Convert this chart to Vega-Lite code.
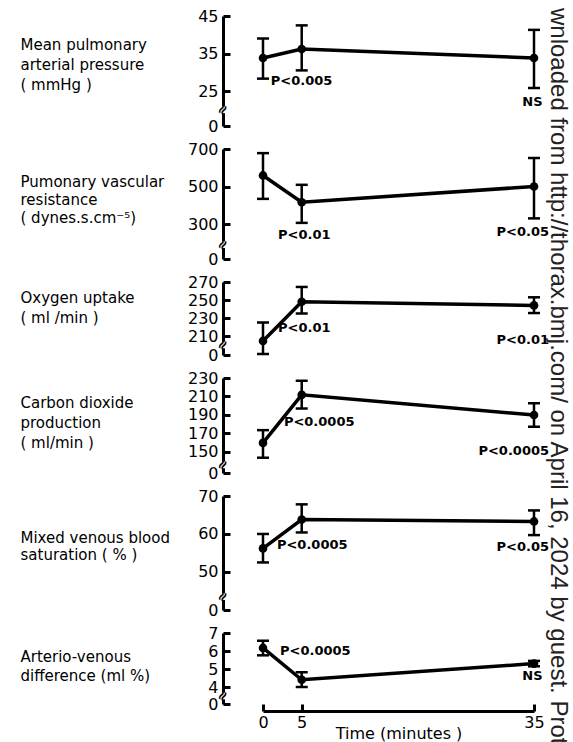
{
  "$schema": "https://vega.github.io/schema/vega-lite/v6.json",
  "padding": {"left": 20, "top": 8, "right": 0, "bottom": 0},
  "background": "white",
  "bounds": "flush",
  "spacing": 23,
  "config": {
    "view": {"stroke": null},
    "font": "DejaVu Sans",
    "axis": {
      "grid": false,
      "domainColor": "black",
      "domainWidth": 3,
      "tickColor": "black",
      "tickWidth": 3,
      "tickSize": -7,
      "labelColor": "black",
      "labelFont": "DejaVu Sans",
      "labelFontSize": 16,
      "labelPadding": 12,
      "labelOverlap": false,
      "labelFlush": false,
      "titleFont": "DejaVu Sans",
      "titleFontSize": 15,
      "titleFontWeight": "normal",
      "titleColor": "black",
      "zindex": 0
    }
  },
  "title": {
    "text": "wnloaded from http://thorax.bmj.com/ on April 16, 2024 by guest. Prote",
    "orient": "right",
    "anchor": "start",
    "angle": 90,
    "font": "Liberation Sans",
    "fontSize": 24,
    "fontWeight": "normal",
    "color": "#222222",
    "offset": -3
  },
  "datasets": {
    "obs": [
      {"m": "P1", "t": 0, "v": 33.8, "lo": 28.3, "hi": 39},
      {"m": "P1", "t": 5, "v": 36.2, "lo": 30.5, "hi": 42.5},
      {"m": "P1", "t": 35, "v": 33.8, "lo": 25.8, "hi": 41.3},
      {"m": "P2", "t": 0, "v": 559, "lo": 434, "hi": 678},
      {"m": "P2", "t": 5, "v": 416, "lo": 306, "hi": 509},
      {"m": "P2", "t": 35, "v": 500, "lo": 330, "hi": 652},
      {"m": "P3", "t": 0, "v": 204.5, "lo": 190, "hi": 225},
      {"m": "P3", "t": 5, "v": 248, "lo": 235, "hi": 264.5},
      {"m": "P3", "t": 35, "v": 244, "lo": 235.5, "hi": 253},
      {"m": "P4", "t": 0, "v": 159.8, "lo": 143.8, "hi": 173.6},
      {"m": "P4", "t": 5, "v": 211.8, "lo": 197, "hi": 227},
      {"m": "P4", "t": 35, "v": 190, "lo": 177.3, "hi": 202.7},
      {"m": "P5", "t": 0, "v": 56.2, "lo": 52.5, "hi": 60},
      {"m": "P5", "t": 5, "v": 63.8, "lo": 60.4, "hi": 67.8},
      {"m": "P5", "t": 35, "v": 63.3, "lo": 59.7, "hi": 66.2},
      {"m": "P6", "t": 0, "v": 6.17, "lo": 5.76, "hi": 6.57},
      {"m": "P6", "t": 5, "v": 4.4, "lo": 4.0, "hi": 4.82},
      {"m": "P6", "t": 35, "v": 5.3, "lo": 5.15, "hi": 5.45}
    ],
    "notes": [
      {"m": "P1", "side": "l", "t": 1.0, "v": 27.6, "label": "P<0.005"},
      {"m": "P1", "side": "r", "t": 36.1, "v": 22.2, "label": "NS"},
      {"m": "P2", "side": "l", "t": 1.94, "v": 240, "label": "P<0.01"},
      {"m": "P2", "side": "r", "t": 36.94, "v": 258, "label": "P<0.05"},
      {"m": "P3", "side": "l", "t": 1.94, "v": 219, "label": "P<0.01"},
      {"m": "P3", "side": "r", "t": 36.94, "v": 205.5, "label": "P<0.01"},
      {"m": "P4", "side": "l", "t": 2.7, "v": 182.7, "label": "P<0.0005"},
      {"m": "P4", "side": "r", "t": 36.94, "v": 151, "label": "P<0.0005"},
      {"m": "P5", "side": "l", "t": 1.8, "v": 57.1, "label": "P<0.0005"},
      {"m": "P5", "side": "r", "t": 36.94, "v": 56.6, "label": "P<0.05"},
      {"m": "P6", "side": "l", "t": 2.2, "v": 6.0, "label": "P<0.0005"},
      {"m": "P6", "side": "r", "t": 36.1, "v": 4.6, "label": "NS"}
    ],
    "breaks": [
      {"m": "P1", "t": -5.166, "v": 20},
      {"m": "P2", "t": -5.166, "v": 190},
      {"m": "P3", "t": -5.166, "v": 200},
      {"m": "P4", "t": -5.166, "v": 136},
      {"m": "P5", "t": -5.166, "v": 43.5},
      {"m": "P6", "t": -5.166, "v": 3.5}
    ]
  },
  "vconcat": [
    {
      "width": 271, "height": 110,
      "encoding": {
        "x": {"field": "t", "type": "quantitative", "scale": {"domain": [0, 35], "nice": false, "zero": false}, "axis": null},
        "y": {"field": "v", "type": "quantitative",
          "scale": {"domain": [0, 16.5, 45], "range": [110, 106.9, 0], "nice": false, "zero": false},
          "axis": {"values": [0, 25, 35, 45], "offset": 40, "title": ["Mean pulmonary", "arterial pressure", "( mmHg )"], "titleAngle": 0, "titleAlign": "left", "titleBaseline": "middle", "titleX": -203, "titleY": 28.5, "titleLineHeight": 20}}
      },
      "layer": [
        {"data": {"name": "breaks"}, "transform": [{"filter": "datum.m === 'P1'"}], "mark": {"type": "point", "shape": "square", "filled": true, "size": 45, "color": "white", "opacity": 1}},
        {"data": {"name": "breaks"}, "transform": [{"filter": "datum.m === 'P1'"}], "mark": {"type": "text", "text": "≈", "fontSize": 14, "fontWeight": "bold", "angle": 300, "color": "black"}},
        {"data": {"name": "obs"}, "transform": [{"filter": "datum.m === 'P1'"}], "mark": {"type": "rule", "strokeWidth": 2.5, "color": "black"}, "encoding": {"y": {"field": "lo", "type": "quantitative"}, "y2": {"field": "hi"}}},
        {"data": {"name": "obs"}, "transform": [{"filter": "datum.m === 'P1'"}], "mark": {"type": "tick", "orient": "horizontal", "size": 12, "thickness": 2.5, "color": "black", "opacity": 1}, "encoding": {"y": {"field": "lo", "type": "quantitative"}}},
        {"data": {"name": "obs"}, "transform": [{"filter": "datum.m === 'P1'"}], "mark": {"type": "tick", "orient": "horizontal", "size": 12, "thickness": 2.5, "color": "black", "opacity": 1}, "encoding": {"y": {"field": "hi", "type": "quantitative"}}},
        {"data": {"name": "obs"}, "transform": [{"filter": "datum.m === 'P1'"}], "mark": {"type": "line", "strokeWidth": 3.5, "color": "black"}},
        {"data": {"name": "obs"}, "transform": [{"filter": "datum.m === 'P1'"}], "mark": {"type": "point", "filled": true, "size": 75, "color": "black", "opacity": 1}},
        {"data": {"name": "notes"}, "transform": [{"filter": "datum.m === 'P1' && datum.side === 'l'"}], "mark": {"type": "text", "align": "left", "baseline": "middle", "fontSize": 13, "fontWeight": "bold", "color": "black"}, "encoding": {"text": {"field": "label"}}},
        {"data": {"name": "notes"}, "transform": [{"filter": "datum.m === 'P1' && datum.side === 'r'"}], "mark": {"type": "text", "align": "right", "baseline": "middle", "fontSize": 13, "fontWeight": "bold", "color": "black"}, "encoding": {"text": {"field": "label"}}}
      ]
    },
    {
      "width": 271, "height": 110,
      "encoding": {
        "x": {"field": "t", "type": "quantitative", "scale": {"domain": [0, 35], "nice": false, "zero": false}, "axis": null},
        "y": {"field": "v", "type": "quantitative",
          "scale": {"domain": [0, 120, 700], "range": [110, 108.75, 0], "nice": false, "zero": false},
          "axis": {"values": [0, 300, 500, 700], "offset": 40, "title": ["Pumonary vascular", "resistance", "( dynes.s.cm⁻⁵)"], "titleAngle": 0, "titleAlign": "left", "titleBaseline": "middle", "titleX": -203, "titleY": 32, "titleLineHeight": 18}}
      },
      "layer": [
        {"data": {"name": "breaks"}, "transform": [{"filter": "datum.m === 'P2'"}], "mark": {"type": "point", "shape": "square", "filled": true, "size": 45, "color": "white", "opacity": 1}},
        {"data": {"name": "breaks"}, "transform": [{"filter": "datum.m === 'P2'"}], "mark": {"type": "text", "text": "≈", "fontSize": 14, "fontWeight": "bold", "angle": 300, "color": "black"}},
        {"data": {"name": "obs"}, "transform": [{"filter": "datum.m === 'P2'"}], "mark": {"type": "rule", "strokeWidth": 2.5, "color": "black"}, "encoding": {"y": {"field": "lo", "type": "quantitative"}, "y2": {"field": "hi"}}},
        {"data": {"name": "obs"}, "transform": [{"filter": "datum.m === 'P2'"}], "mark": {"type": "tick", "orient": "horizontal", "size": 12, "thickness": 2.5, "color": "black", "opacity": 1}, "encoding": {"y": {"field": "lo", "type": "quantitative"}}},
        {"data": {"name": "obs"}, "transform": [{"filter": "datum.m === 'P2'"}], "mark": {"type": "tick", "orient": "horizontal", "size": 12, "thickness": 2.5, "color": "black", "opacity": 1}, "encoding": {"y": {"field": "hi", "type": "quantitative"}}},
        {"data": {"name": "obs"}, "transform": [{"filter": "datum.m === 'P2'"}], "mark": {"type": "line", "strokeWidth": 3.5, "color": "black"}},
        {"data": {"name": "obs"}, "transform": [{"filter": "datum.m === 'P2'"}], "mark": {"type": "point", "filled": true, "size": 75, "color": "black", "opacity": 1}},
        {"data": {"name": "notes"}, "transform": [{"filter": "datum.m === 'P2' && datum.side === 'l'"}], "mark": {"type": "text", "align": "left", "baseline": "middle", "fontSize": 13, "fontWeight": "bold", "color": "black"}, "encoding": {"text": {"field": "label"}}},
        {"data": {"name": "notes"}, "transform": [{"filter": "datum.m === 'P2' && datum.side === 'r'"}], "mark": {"type": "text", "align": "right", "baseline": "middle", "fontSize": 13, "fontWeight": "bold", "color": "black"}, "encoding": {"text": {"field": "label"}}}
      ]
    },
    {
      "width": 271, "height": 73,
      "encoding": {
        "x": {"field": "t", "type": "quantitative", "scale": {"domain": [0, 35], "nice": false, "zero": false}, "axis": null},
        "y": {"field": "v", "type": "quantitative",
          "scale": {"domain": [0, 189, 270], "range": [73, 72.9, 0], "nice": false, "zero": false},
          "axis": {"values": [0, 210, 230, 250, 270], "offset": 40, "title": ["Oxygen uptake", "( ml /min )"], "titleAngle": 0, "titleAlign": "left", "titleBaseline": "middle", "titleX": -203, "titleY": 15, "titleLineHeight": 20}}
      },
      "layer": [
        {"data": {"name": "breaks"}, "transform": [{"filter": "datum.m === 'P3'"}], "mark": {"type": "point", "shape": "square", "filled": true, "size": 45, "color": "white", "opacity": 1}},
        {"data": {"name": "breaks"}, "transform": [{"filter": "datum.m === 'P3'"}], "mark": {"type": "text", "text": "≈", "fontSize": 14, "fontWeight": "bold", "angle": 300, "color": "black"}},
        {"data": {"name": "obs"}, "transform": [{"filter": "datum.m === 'P3'"}], "mark": {"type": "rule", "strokeWidth": 2.5, "color": "black"}, "encoding": {"y": {"field": "lo", "type": "quantitative"}, "y2": {"field": "hi"}}},
        {"data": {"name": "obs"}, "transform": [{"filter": "datum.m === 'P3'"}], "mark": {"type": "tick", "orient": "horizontal", "size": 12, "thickness": 2.5, "color": "black", "opacity": 1}, "encoding": {"y": {"field": "lo", "type": "quantitative"}}},
        {"data": {"name": "obs"}, "transform": [{"filter": "datum.m === 'P3'"}], "mark": {"type": "tick", "orient": "horizontal", "size": 12, "thickness": 2.5, "color": "black", "opacity": 1}, "encoding": {"y": {"field": "hi", "type": "quantitative"}}},
        {"data": {"name": "obs"}, "transform": [{"filter": "datum.m === 'P3'"}], "mark": {"type": "line", "strokeWidth": 3.5, "color": "black"}},
        {"data": {"name": "obs"}, "transform": [{"filter": "datum.m === 'P3'"}], "mark": {"type": "point", "filled": true, "size": 75, "color": "black", "opacity": 1}},
        {"data": {"name": "notes"}, "transform": [{"filter": "datum.m === 'P3' && datum.side === 'l'"}], "mark": {"type": "text", "align": "left", "baseline": "middle", "fontSize": 13, "fontWeight": "bold", "color": "black"}, "encoding": {"text": {"field": "label"}}},
        {"data": {"name": "notes"}, "transform": [{"filter": "datum.m === 'P3' && datum.side === 'r'"}], "mark": {"type": "text", "align": "right", "baseline": "middle", "fontSize": 13, "fontWeight": "bold", "color": "black"}, "encoding": {"text": {"field": "label"}}}
      ]
    },
    {
      "width": 271, "height": 95,
      "encoding": {
        "x": {"field": "t", "type": "quantitative", "scale": {"domain": [0, 35], "nice": false, "zero": false}, "axis": null},
        "y": {"field": "v", "type": "quantitative",
          "scale": {"domain": [0, 129, 230], "range": [95, 93.4, 0], "nice": false, "zero": false},
          "axis": {"values": [0, 150, 170, 190, 210, 230], "offset": 40, "title": ["Carbon dioxide", "production", "( ml/min )"], "titleAngle": 0, "titleAlign": "left", "titleBaseline": "middle", "titleX": -203, "titleY": 24, "titleLineHeight": 20}}
      },
      "layer": [
        {"data": {"name": "breaks"}, "transform": [{"filter": "datum.m === 'P4'"}], "mark": {"type": "point", "shape": "square", "filled": true, "size": 45, "color": "white", "opacity": 1}},
        {"data": {"name": "breaks"}, "transform": [{"filter": "datum.m === 'P4'"}], "mark": {"type": "text", "text": "≈", "fontSize": 14, "fontWeight": "bold", "angle": 300, "color": "black"}},
        {"data": {"name": "obs"}, "transform": [{"filter": "datum.m === 'P4'"}], "mark": {"type": "rule", "strokeWidth": 2.5, "color": "black"}, "encoding": {"y": {"field": "lo", "type": "quantitative"}, "y2": {"field": "hi"}}},
        {"data": {"name": "obs"}, "transform": [{"filter": "datum.m === 'P4'"}], "mark": {"type": "tick", "orient": "horizontal", "size": 12, "thickness": 2.5, "color": "black", "opacity": 1}, "encoding": {"y": {"field": "lo", "type": "quantitative"}}},
        {"data": {"name": "obs"}, "transform": [{"filter": "datum.m === 'P4'"}], "mark": {"type": "tick", "orient": "horizontal", "size": 12, "thickness": 2.5, "color": "black", "opacity": 1}, "encoding": {"y": {"field": "hi", "type": "quantitative"}}},
        {"data": {"name": "obs"}, "transform": [{"filter": "datum.m === 'P4'"}], "mark": {"type": "line", "strokeWidth": 3.5, "color": "black"}},
        {"data": {"name": "obs"}, "transform": [{"filter": "datum.m === 'P4'"}], "mark": {"type": "point", "filled": true, "size": 75, "color": "black", "opacity": 1}},
        {"data": {"name": "notes"}, "transform": [{"filter": "datum.m === 'P4' && datum.side === 'l'"}], "mark": {"type": "text", "align": "left", "baseline": "middle", "fontSize": 13, "fontWeight": "bold", "color": "black"}, "encoding": {"text": {"field": "label"}}},
        {"data": {"name": "notes"}, "transform": [{"filter": "datum.m === 'P4' && datum.side === 'r'"}], "mark": {"type": "text", "align": "right", "baseline": "middle", "fontSize": 13, "fontWeight": "bold", "color": "black"}, "encoding": {"text": {"field": "label"}}}
      ]
    },
    {
      "width": 271, "height": 114,
      "encoding": {
        "x": {"field": "t", "type": "quantitative", "scale": {"domain": [0, 35], "nice": false, "zero": false}, "axis": null},
        "y": {"field": "v", "type": "quantitative",
          "scale": {"domain": [0, 40.5, 70], "range": [114, 112, 0], "nice": false, "zero": false},
          "axis": {"values": [0, 50, 60, 70], "offset": 40, "title": ["Mixed venous blood", "saturation ( % )"], "titleAngle": 0, "titleAlign": "left", "titleBaseline": "middle", "titleX": -203, "titleY": 41, "titleLineHeight": 17}}
      },
      "layer": [
        {"data": {"name": "breaks"}, "transform": [{"filter": "datum.m === 'P5'"}], "mark": {"type": "point", "shape": "square", "filled": true, "size": 45, "color": "white", "opacity": 1}},
        {"data": {"name": "breaks"}, "transform": [{"filter": "datum.m === 'P5'"}], "mark": {"type": "text", "text": "≈", "fontSize": 14, "fontWeight": "bold", "angle": 300, "color": "black"}},
        {"data": {"name": "obs"}, "transform": [{"filter": "datum.m === 'P5'"}], "mark": {"type": "rule", "strokeWidth": 2.5, "color": "black"}, "encoding": {"y": {"field": "lo", "type": "quantitative"}, "y2": {"field": "hi"}}},
        {"data": {"name": "obs"}, "transform": [{"filter": "datum.m === 'P5'"}], "mark": {"type": "tick", "orient": "horizontal", "size": 12, "thickness": 2.5, "color": "black", "opacity": 1}, "encoding": {"y": {"field": "lo", "type": "quantitative"}}},
        {"data": {"name": "obs"}, "transform": [{"filter": "datum.m === 'P5'"}], "mark": {"type": "tick", "orient": "horizontal", "size": 12, "thickness": 2.5, "color": "black", "opacity": 1}, "encoding": {"y": {"field": "hi", "type": "quantitative"}}},
        {"data": {"name": "obs"}, "transform": [{"filter": "datum.m === 'P5'"}], "mark": {"type": "line", "strokeWidth": 3.5, "color": "black"}},
        {"data": {"name": "obs"}, "transform": [{"filter": "datum.m === 'P5'"}], "mark": {"type": "point", "filled": true, "size": 75, "color": "black", "opacity": 1}},
        {"data": {"name": "notes"}, "transform": [{"filter": "datum.m === 'P5' && datum.side === 'l'"}], "mark": {"type": "text", "align": "left", "baseline": "middle", "fontSize": 13, "fontWeight": "bold", "color": "black"}, "encoding": {"text": {"field": "label"}}},
        {"data": {"name": "notes"}, "transform": [{"filter": "datum.m === 'P5' && datum.side === 'r'"}], "mark": {"type": "text", "align": "right", "baseline": "middle", "fontSize": 13, "fontWeight": "bold", "color": "black"}, "encoding": {"text": {"field": "label"}}}
      ]
    },
    {
      "width": 271, "height": 71,
      "encoding": {
        "x": {"field": "t", "type": "quantitative", "scale": {"domain": [0, 35], "nice": false, "zero": false},
          "axis": {"values": [0, 5, 35], "offset": 7, "title": "Time  (minutes )", "titleFontSize": 16, "titlePadding": -5, "labelPadding": 10}},
        "y": {"field": "v", "type": "quantitative",
          "scale": {"domain": [0, 3.2, 7], "range": [71, 68.4, 0], "nice": false, "zero": false},
          "axis": {"values": [0, 4, 5, 6, 7], "offset": 40, "title": ["Arterio-venous", "difference (ml %)"], "titleAngle": 0, "titleAlign": "left", "titleBaseline": "middle", "titleX": -203, "titleY": 23, "titleLineHeight": 19}}
      },
      "layer": [
        {"data": {"name": "breaks"}, "transform": [{"filter": "datum.m === 'P6'"}], "mark": {"type": "point", "shape": "square", "filled": true, "size": 45, "color": "white", "opacity": 1}},
        {"data": {"name": "breaks"}, "transform": [{"filter": "datum.m === 'P6'"}], "mark": {"type": "text", "text": "≈", "fontSize": 14, "fontWeight": "bold", "angle": 300, "color": "black"}},
        {"data": {"name": "obs"}, "transform": [{"filter": "datum.m === 'P6'"}], "mark": {"type": "rule", "strokeWidth": 2.5, "color": "black"}, "encoding": {"y": {"field": "lo", "type": "quantitative"}, "y2": {"field": "hi"}}},
        {"data": {"name": "obs"}, "transform": [{"filter": "datum.m === 'P6'"}], "mark": {"type": "tick", "orient": "horizontal", "size": 12, "thickness": 2.5, "color": "black", "opacity": 1}, "encoding": {"y": {"field": "lo", "type": "quantitative"}}},
        {"data": {"name": "obs"}, "transform": [{"filter": "datum.m === 'P6'"}], "mark": {"type": "tick", "orient": "horizontal", "size": 12, "thickness": 2.5, "color": "black", "opacity": 1}, "encoding": {"y": {"field": "hi", "type": "quantitative"}}},
        {"data": {"name": "obs"}, "transform": [{"filter": "datum.m === 'P6'"}], "mark": {"type": "line", "strokeWidth": 3.5, "color": "black"}},
        {"data": {"name": "obs"}, "transform": [{"filter": "datum.m === 'P6'"}], "mark": {"type": "point", "filled": true, "size": 75, "color": "black", "opacity": 1}},
        {"data": {"name": "notes"}, "transform": [{"filter": "datum.m === 'P6' && datum.side === 'l'"}], "mark": {"type": "text", "align": "left", "baseline": "middle", "fontSize": 13, "fontWeight": "bold", "color": "black"}, "encoding": {"text": {"field": "label"}}},
        {"data": {"name": "notes"}, "transform": [{"filter": "datum.m === 'P6' && datum.side === 'r'"}], "mark": {"type": "text", "align": "right", "baseline": "middle", "fontSize": 13, "fontWeight": "bold", "color": "black"}, "encoding": {"text": {"field": "label"}}}
      ]
    }
  ]
}
